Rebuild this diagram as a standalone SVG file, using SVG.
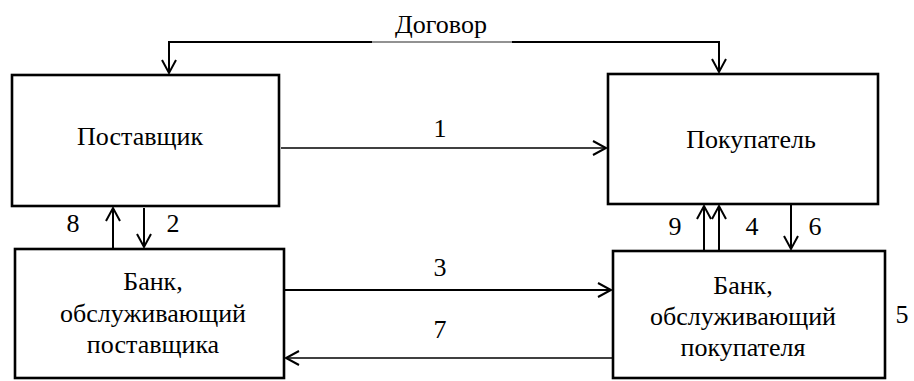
<svg xmlns="http://www.w3.org/2000/svg" width="914" height="381" viewBox="0 0 914 381">
  <style>
    text { font-family: "Liberation Serif", Tinos, "DejaVu Serif", serif; font-size: 26px; fill: #000; }
    .box { fill: #fff; stroke: #000; stroke-width: 2.6; }
    .c { fill: none; stroke: #000; stroke-width: 2; }
    .thin { stroke-width: 1.6; }
    .lbl { text-anchor: middle; }
  </style>
  <defs>
    <marker id="open" markerUnits="userSpaceOnUse" markerWidth="20" markerHeight="20" refX="0" refY="0" viewBox="-15 -10 20 20" orient="auto" overflow="visible">
      <path d="M-13,-7 L0,0 L-13,7" fill="none" stroke="#000" stroke-width="2"/>
    </marker>
  </defs>

  <rect width="914" height="381" fill="#fff"/>

  <g id="supplier">
    <rect class="box" x="12" y="75" width="267" height="131"/>
    <text class="lbl" x="140" y="145">Поставщик</text>
  </g>

  <g id="buyer">
    <rect class="box" x="608" y="74" width="270" height="130"/>
    <text class="lbl" x="751" y="148">Покупатель</text>
  </g>

  <g id="supplier-bank">
    <rect class="box" x="15" y="249" width="269" height="129"/>
    <text class="lbl" x="153" y="290">Банк,</text>
    <text class="lbl" x="153" y="322">обслуживающий</text>
    <text class="lbl" x="153" y="353">поставщика</text>
  </g>

  <g id="buyer-bank">
    <rect class="box" x="613" y="251" width="272" height="127"/>
    <text class="lbl" x="743" y="294">Банк,</text>
    <text class="lbl" x="743" y="325">обслуживающий</text>
    <text class="lbl" x="743" y="356">покупателя</text>
  </g>

  <g id="connectors">
    <!-- contract line across the top -->
    <path class="c" d="M372,42 H169 V73" marker-end="url(#open)"/>
    <path class="c" d="M512,42 H719 V72" marker-end="url(#open)"/>
    <path d="M372,42 H512" stroke="#6e6e6e" stroke-width="1.6" fill="none"/>

    <!-- 1: supplier to buyer -->
    <path class="c thin" d="M281,148 H606" marker-end="url(#open)"/>
    <!-- 3: supplier bank to buyer bank -->
    <path class="c" d="M285,290 H611" marker-end="url(#open)"/>
    <!-- 7: buyer bank to supplier bank -->
    <path class="c thin" d="M612,358 H286" marker-end="url(#open)"/>

    <!-- 8 and 2 -->
    <path class="c" d="M113,248 V208" marker-end="url(#open)"/>
    <path class="c" d="M144,208 V247" marker-end="url(#open)"/>
    <!-- 9, 4 and 6 -->
    <path class="c" d="M704,250 V206" marker-end="url(#open)"/>
    <path class="c" d="M719,250 V206" marker-end="url(#open)"/>
    <path class="c" d="M791,205 V249" marker-end="url(#open)"/>
  </g>

  <g id="labels">
    <text class="lbl" x="441" y="33">Договор</text>
    <text class="lbl" x="440" y="137">1</text>
    <text class="lbl" x="440" y="276">3</text>
    <text class="lbl" x="440" y="338">7</text>
    <text class="lbl" x="73" y="232">8</text>
    <text class="lbl" x="173" y="232">2</text>
    <text class="lbl" x="675" y="235">9</text>
    <text class="lbl" x="752" y="235">4</text>
    <text class="lbl" x="815" y="235">6</text>
    <text class="lbl" x="902" y="323">5</text>
  </g>
</svg>
